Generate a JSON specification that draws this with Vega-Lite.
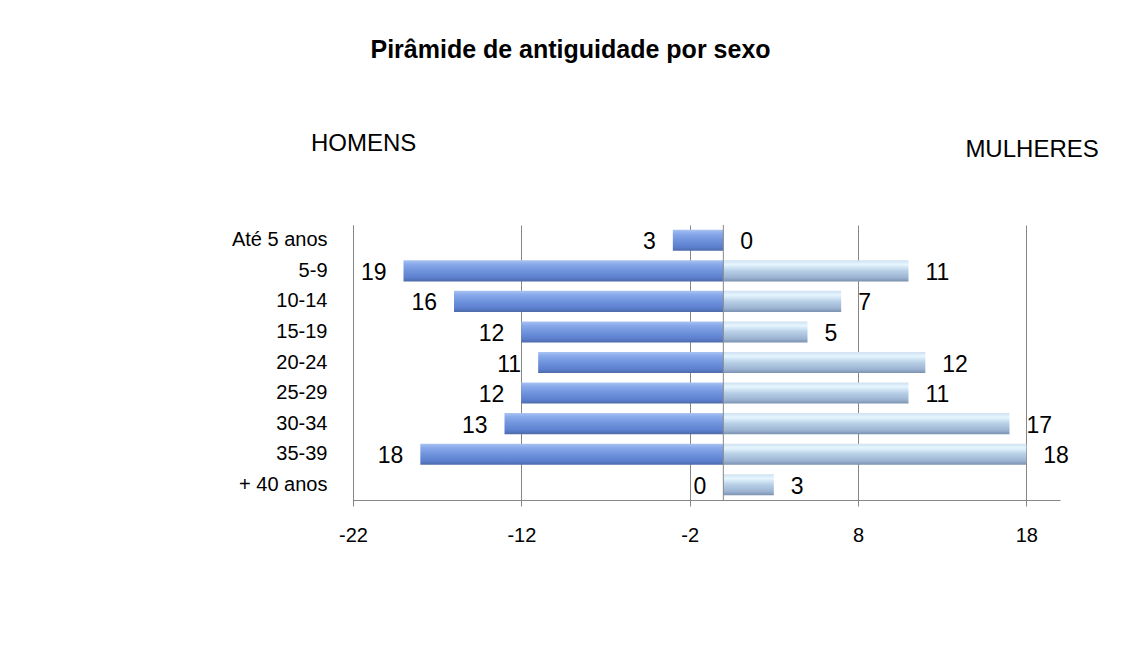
{
  "$schema": "https://vega.github.io/schema/vega-lite/v6.json",
  "width": 707,
  "height": 275,
  "autosize": {"type": "none"},
  "padding": {"left": 353, "top": 225, "right": 61, "bottom": 155},
  "background": "white",
  "config": {"view": {"stroke": null}, "font": "Liberation Sans"},
  "title": {
    "text": "Pirâmide de antiguidade por sexo",
    "fontSize": 25,
    "fontWeight": "bold",
    "font": "Liberation Sans",
    "color": "#000000",
    "anchor": "middle",
    "frame": "group",
    "dx": -136,
    "offset": 68
  },
  "data": {
    "values": [
      {"faixa": "Até 5 anos", "sexo": "Homens", "valor": -3, "n": 3},
      {"faixa": "5-9", "sexo": "Homens", "valor": -19, "n": 19},
      {"faixa": "10-14", "sexo": "Homens", "valor": -16, "n": 16},
      {"faixa": "15-19", "sexo": "Homens", "valor": -12, "n": 12},
      {"faixa": "20-24", "sexo": "Homens", "valor": -11, "n": 11},
      {"faixa": "25-29", "sexo": "Homens", "valor": -12, "n": 12},
      {"faixa": "30-34", "sexo": "Homens", "valor": -13, "n": 13},
      {"faixa": "35-39", "sexo": "Homens", "valor": -18, "n": 18},
      {"faixa": "+ 40 anos", "sexo": "Homens", "valor": 0, "n": 0},
      {"faixa": "Até 5 anos", "sexo": "Mulheres", "valor": 0, "n": 0},
      {"faixa": "5-9", "sexo": "Mulheres", "valor": 11, "n": 11},
      {"faixa": "10-14", "sexo": "Mulheres", "valor": 7, "n": 7},
      {"faixa": "15-19", "sexo": "Mulheres", "valor": 5, "n": 5},
      {"faixa": "20-24", "sexo": "Mulheres", "valor": 12, "n": 12},
      {"faixa": "25-29", "sexo": "Mulheres", "valor": 11, "n": 11},
      {"faixa": "30-34", "sexo": "Mulheres", "valor": 17, "n": 17},
      {"faixa": "35-39", "sexo": "Mulheres", "valor": 18, "n": 18},
      {"faixa": "+ 40 anos", "sexo": "Mulheres", "valor": 3, "n": 3}
    ]
  },
  "resolve": {"axis": {"x": "independent"}},
  "layer": [
    {
      "transform": [{"filter": "datum.sexo == 'Homens'"}],
      "mark": {
        "type": "bar",
        "color": {
          "gradient": "linear", "x1": 0, "y1": 0, "x2": 0, "y2": 1,
          "stops": [
            {"offset": 0, "color": "#a9c3f2"},
            {"offset": 0.18, "color": "#8aaaeb"},
            {"offset": 0.5, "color": "#6f93dc"},
            {"offset": 0.82, "color": "#5c80cf"},
            {"offset": 1, "color": "#4d6aa8"}
          ]
        }
      },
      "encoding": {
        "x": {
          "field": "valor", "type": "quantitative",
          "scale": {"domain": [-22, 20], "nice": false, "zero": false},
          "axis": {
            "orient": "bottom", "values": [-22, -12, -2, 8, 18], "grid": true,
            "labelExpr": "'' + datum.value",
            "gridColor": "#868686", "domainColor": "#868686", "tickColor": "#868686",
            "tickSize": 6, "labelFontSize": 20, "labelColor": "#000000",
            "labelPadding": 19, "title": null, "labelFlush": false
          }
        },
        "y": {
          "field": "faixa", "type": "nominal",
          "sort": ["Até 5 anos", "5-9", "10-14", "15-19", "20-24", "25-29", "30-34", "35-39", "+ 40 anos"],
          "scale": {"paddingInner": 0.31, "paddingOuter": 0.155},
          "axis": {
            "title": null, "ticks": false, "domainColor": "#868686",
            "labelFontSize": 20, "labelColor": "#000000", "labelPadding": 26
          }
        }
      }
    },
    {
      "transform": [{"filter": "datum.sexo == 'Mulheres'"}],
      "mark": {
        "type": "bar",
        "color": {
          "gradient": "linear", "x1": 0, "y1": 0, "x2": 0, "y2": 1,
          "stops": [
            {"offset": 0, "color": "#cfe0f0"},
            {"offset": 0.2, "color": "#e6f6ff"},
            {"offset": 0.5, "color": "#b7cfe6"},
            {"offset": 0.82, "color": "#9cb4d2"},
            {"offset": 1, "color": "#7a91b0"}
          ]
        }
      },
      "encoding": {
        "x": {"field": "valor", "type": "quantitative", "axis": null},
        "y": {
          "field": "faixa", "type": "nominal",
          "sort": ["Até 5 anos", "5-9", "10-14", "15-19", "20-24", "25-29", "30-34", "35-39", "+ 40 anos"]
        }
      }
    },
    {
      "transform": [{"filter": "datum.sexo == 'Homens'"}],
      "mark": {"type": "text", "align": "right", "baseline": "middle", "dx": -17, "dy": 2, "fontSize": 23, "color": "#000000"},
      "encoding": {
        "x": {"field": "valor", "type": "quantitative", "axis": null},
        "y": {
          "field": "faixa", "type": "nominal",
          "sort": ["Até 5 anos", "5-9", "10-14", "15-19", "20-24", "25-29", "30-34", "35-39", "+ 40 anos"]
        },
        "text": {"field": "n", "type": "quantitative"}
      }
    },
    {
      "transform": [{"filter": "datum.sexo == 'Mulheres'"}],
      "mark": {"type": "text", "align": "left", "baseline": "middle", "dx": 17, "dy": 2, "fontSize": 23, "color": "#000000"},
      "encoding": {
        "x": {"field": "valor", "type": "quantitative", "axis": null},
        "y": {
          "field": "faixa", "type": "nominal",
          "sort": ["Até 5 anos", "5-9", "10-14", "15-19", "20-24", "25-29", "30-34", "35-39", "+ 40 anos"]
        },
        "text": {"field": "n", "type": "quantitative"}
      }
    },
    {
      "data": {"values": [{"v": 0}]},
      "mark": {"type": "rule", "color": "#868686", "strokeWidth": 1},
      "encoding": {
        "x": {
          "field": "v", "type": "quantitative",
          "axis": {
            "orient": "top", "values": [-21.4, 18.31],
            "labelExpr": "datum.value < 0 ? 'HOMENS' : 'MULHERES'",
            "domain": false, "ticks": false, "tickSize": 0, "grid": false,
            "labelFontSize": 24, "labelColor": "#000000", "labelBaseline": "alphabetic",
            "labelPadding": {"condition": {"test": "datum.value > 0", "value": 69}, "value": 75},
            "labelOverlap": false, "labelBound": false, "labelFlush": false, "title": null
          }
        }
      }
    }
  ]
}
